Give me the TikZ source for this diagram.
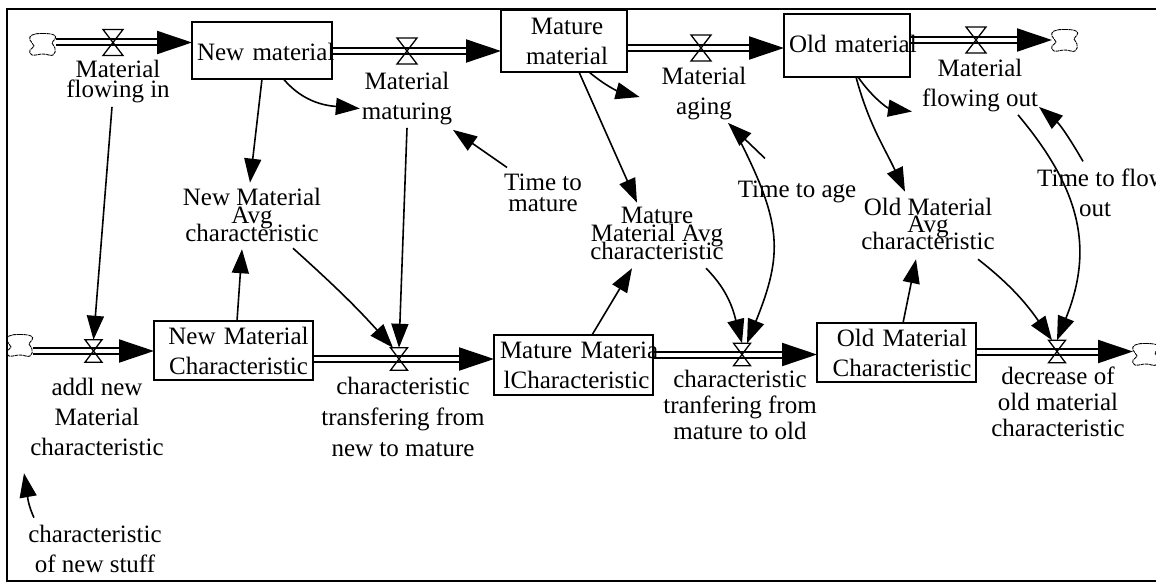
\documentclass[tikz,border=0pt]{standalone}
\usepackage{fontspec}
\setmainfont{Liberation Serif}
\usetikzlibrary{positioning}
\usetikzlibrary{arrows.meta}
\usetikzlibrary{backgrounds}
\tikzset{
  stock/.style={draw, rectangle, line width=1.5pt, inner xsep=5pt, inner ysep=0pt, outer sep=0pt, align=center, anchor=north west, font=\fontsize{25}{30}\selectfont},
  label/.style={inner sep=0pt, outer sep=0pt, align=center, anchor=base, font=\fontsize{25}{30}\selectfont},
  bigvalve/.style={inner sep=0pt, outer sep=0pt, minimum width=20pt, minimum height=26pt},
  smallvalve/.style={inner sep=0pt, outer sep=0pt, minimum width=17pt, minimum height=22.5pt},
  valveline/.style={line width=1.3pt},
  source/.style={inner sep=0pt, outer sep=0pt, minimum width=26pt, minimum height=24pt},
  sourceline/.style={line width=0.9pt, dash pattern=on 3.5pt off 0.7pt},
  pipe/.style={double, double distance=4pt, line width=2pt, -{Triangle[length=35pt,width=23pt]}},
  link/.style={line width=1.6pt, -{Triangle[length=24pt,width=17pt]}},
}
\begin{document}
\begin{tikzpicture}[x=1pt,y=1pt]
\useasboundingbox (0.,0.) rectangle (1156.,-583.);
\draw [line width=2pt] (1156.,-9.) -- (7.,-9.) -- (7.,-581.) -- (1156.,-581.);
\node [source] (cloudIn) at (43.,-44.) {};
\node [source] (cloudAddl) at (20.,-345.) {};
\node [source] (cloudOut) at (1065.,-40.) {};
\node [source] (cloudDecrease) at (1146.,-354.) {};
\foreach \name in {cloudIn,cloudAddl,cloudOut,cloudDecrease}
  \draw [sourceline, shift={(\name.center)}] plot [smooth cycle, tension=0.8] coordinates {(-11.,9.) (0.,10.5) (11.,9.) (12.,5.) (9.,1.) (12.,-4.) (10.,-11.) (0.,-10.) (-11.,-11.) (-13.,-6.) (-9.,-2.) (-13.,4.)};
\node [stock, text width=130pt, minimum height=57pt, text height=20pt] (newMaterial) at (192.,-22.) {\mbox{New material}};
\node [stock, text width=116pt, minimum height=62pt] (matureMaterial) at (501.,-10.) {\mbox{\hspace*{6pt}Mature}\\\mbox{\hspace*{6pt}material}};
\node [stock, text width=116pt, minimum height=63pt, text depth=3pt] (oldMaterial) at (784.,-14.) {\mbox{Old material}};
\node [stock, inner xsep=0pt, text width=159pt, minimum height=59pt] (newChar) at (154.,-321.) {\mbox{\hspace*{10pt}New Material}\\\mbox{\hspace*{10pt}Characteristic}};
\node [stock, inner xsep=0pt, text width=159pt, minimum height=60pt] (matureChar) at (494.,-335.) {\mbox{\hspace*{6pt}Mature Materia}\\\mbox{\hspace*{6pt}lCharacteristic}};
\node [stock, inner xsep=0pt, text width=159pt, minimum height=59pt] (oldChar) at (817.,-323.) {\mbox{\hspace*{11pt}Old Material}\\\mbox{\hspace*{11pt}Characteristic}};
\foreach \name/\xpos/\ypos in {vIn/113./-42.5, vMaturing/407./-51., vAging/701./-48., vOut/976./-40.}
  \node [bigvalve] (\name) at (\xpos,\ypos) {};
\foreach \name/\xpos/\ypos in {vAddl/93.5/-351., vTransfer/399./-359., vTranfer/742./-354.5, vDecrease/1057./-351.5}
  \node [smallvalve] (\name) at (\xpos,\ypos) {};
\begin{scope}[on background layer]
\draw [pipe] (cloudIn.east |- vIn.center) -- (newMaterial.west |- vIn.center);
\draw [pipe] (newMaterial.east |- vMaturing.center) -- (matureMaterial.west |- vMaturing.center);
\draw [pipe] (matureMaterial.east |- vAging.center) -- (oldMaterial.west |- vAging.center);
\draw [pipe] (oldMaterial.east |- vOut.center) -- (cloudOut.west |- vOut.center);
\draw [pipe] (cloudAddl.east |- vAddl.center) -- (newChar.west |- vAddl.center);
\draw [pipe] (newChar.east |- vTransfer.center) -- (matureChar.west |- vTransfer.center);
\draw [pipe] (matureChar.east |- vTranfer.center) -- (oldChar.west |- vTranfer.center);
\draw [pipe] (oldChar.east |- vDecrease.center) -- (cloudDecrease.west |- vDecrease.center);
\end{scope}
\foreach \name in {vIn,vMaturing,vAging,vOut,vAddl,vTransfer,vTranfer,vDecrease}
  \draw [valveline] (\name.north west) -- (\name.north east) -- (\name.south west) -- (\name.south east) -- cycle;
\node [label] (flowingIn) at (118.,-98.) {Material\\[-10pt]flowing in};
\node [label] (maturing) at (407.,-120.) {Material\\maturing};
\node [label] (aging) at (704.,-115.) {Material\\aging};
\node [label] (flowingOut) at (980.,-107.) {Material\\flowing out};
\node [label] (newAvg) at (252.,-241.) {New Material\\[-12pt]Avg\\[-12pt]characteristic};
\node [label] (matureAvg) at (657.,-259.) {Mature\\[-12pt]Material Avg\\[-12pt]characteristic};
\node [label] (oldAvg) at (928.,-249.) {Old Material\\[-13pt]Avg\\[-13pt]characteristic};
\node [label] (timeMature) at (543.,-211.) {Time to\\[-9pt]mature};
\node [label] (timeAge) at (797.,-197.) {Time to age};
\node [label] (timeOut) at (1102.,-216.) {Time to flow\\out\hspace*{14pt}};
\node [label] (addl) at (97.,-455.) {addl new\\Material\\characteristic};
\node [label] (newStuff) at (95.,-572.) {characteristic\\of new stuff};
\node [label] (transfering) at (403.,-456.) {characteristic\\[1pt]transfering from\\[1pt]new to mature};
\node [label] (tranfering) at (740.,-439.) {characteristic\\[-4pt]tranfering from\\[-4pt]mature to old};
\node [label] (decrease) at (1058.,-436.) {decrease of\\[-4pt]old material\\[-4pt]characteristic};
\draw [link] ([xshift=-6pt,yshift=-3.5pt]flowingIn.south) -- (vAddl.north);
\draw [link] (newMaterial.south) -- ([xshift=-2pt,yshift=5pt]newAvg.north);
\draw [link] ([xshift=21.5pt]newMaterial.south) to[out=-50,in=175] ([xshift=-2pt,yshift=-9.5pt]maturing.west);
\draw [link] ([yshift=-2.5pt]maturing.south) -- (vTransfer.north);
\draw [link] ([xshift=-36pt,yshift=6pt]timeMature.north) -- ([xshift=46pt,yshift=-4.5pt]maturing.south);
\draw [link] ([xshift=41pt,yshift=-7pt]newAvg.south) to[out=-42,in=132] ([xshift=-6pt]vTransfer.north);
\draw [link] ([xshift=3.5pt]newChar.north) -- ([xshift=-10pt,yshift=-8pt]newAvg.south);
\draw [link] ([xshift=15pt]matureMaterial.south) -- ([xshift=-20pt,yshift=4pt]matureAvg.north);
\draw [link] ([xshift=25pt]matureMaterial.south) to[out=-40,in=165] ([xshift=-22pt,yshift=-3pt]aging.west);
\draw [link] ([xshift=-32pt,yshift=22pt]timeAge.north) -- ([xshift=24pt,yshift=-2.5pt]aging.south);
\draw [link] ([xshift=34pt,yshift=-16.5pt]aging.south) to[out=-63,in=68,looseness=1.2] ([xshift=5pt]vTranfer.north);
\draw [link] ([xshift=18.5pt]matureChar.north) -- ([xshift=-25pt,yshift=-9pt]matureAvg.south);
\draw [link] ([xshift=49pt,yshift=-9pt]matureAvg.south) to[out=-45,in=105] (vTranfer.north);
\draw [link] ([xshift=9pt]oldMaterial.south) to[out=-75,in=115] ([xshift=-23pt,yshift=6pt]oldAvg.north);
\draw [link] ([xshift=11pt]oldMaterial.south) to[out=-55,in=172] ([xshift=-10pt,yshift=-25.5pt]flowingOut.west);
\draw [link] ([xshift=-19pt,yshift=7pt]timeOut.north) to[out=120,in=-40] ([xshift=59pt,yshift=5.5pt]flowingOut.south);
\draw [link] ([xshift=38pt,yshift=-2.5pt]flowingOut.south) to[out=-50,in=68,looseness=1.1] (vDecrease.north);
\draw [link] ([xshift=6.5pt]oldChar.north) -- ([xshift=-12pt,yshift=-10pt]oldAvg.south);
\draw [link] ([xshift=50pt,yshift=-10pt]oldAvg.south) to[out=-38,in=125] ([xshift=-5pt]vDecrease.north);
\draw [link] ([xshift=-61pt,yshift=7pt]newStuff.north) to[out=115,in=-80] ([xshift=-73pt,yshift=-18pt]addl.south);
\end{tikzpicture}
\end{document}
